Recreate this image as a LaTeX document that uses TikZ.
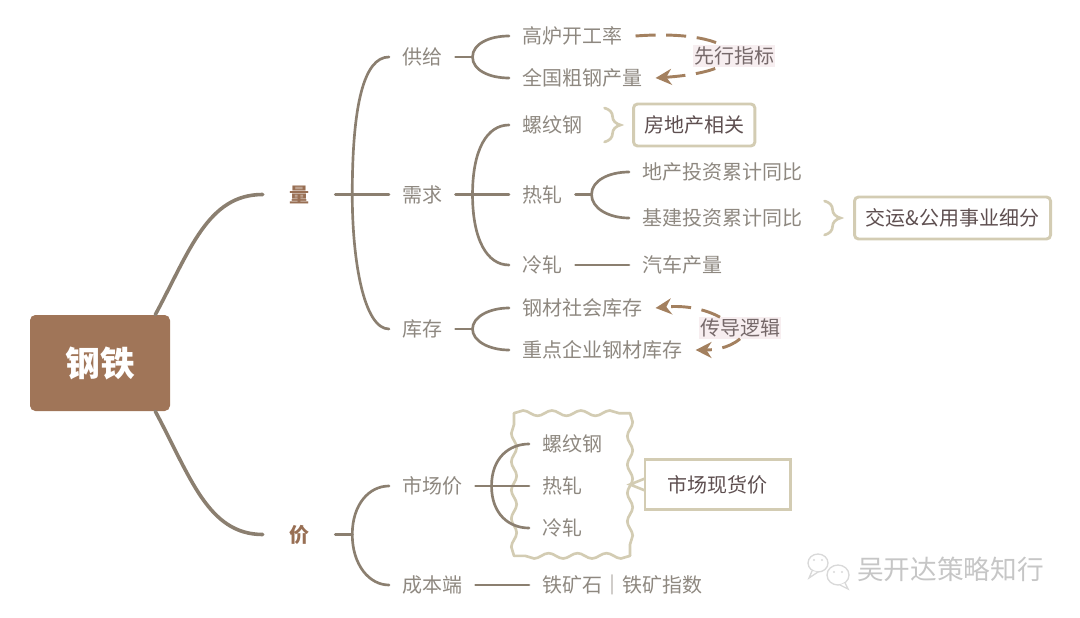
\documentclass[tikz,border=0pt]{standalone}
\usepackage{fontspec}
\setmainfont{Noto Sans CJK SC}
\usepackage{xcolor}
\usetikzlibrary{arrows.meta, positioning, calc, decorations.pathmorphing, decorations.pathreplacing}

\definecolor{rootbrown}{HTML}{A07558}
\definecolor{linkgray}{HTML}{8B7F70}
\definecolor{textgray}{HTML}{8E8880}
\definecolor{notetan}{HTML}{D3CCB3}
\definecolor{notetext}{HTML}{5E4F50}
\definecolor{tagpink}{HTML}{F7EEF0}
\definecolor{dashbrown}{HTML}{A3805F}

\begin{document}
\begin{tikzpicture}[
    x=0.75pt, y=-0.75pt,
    % Central topic
    rootbox/.style={rectangle, fill=rootbrown, rounded corners=4pt, minimum width=105pt,
                    minimum height=72pt, text=white, font=\fontsize{26pt}{26pt}\selectfont\bfseries},
    % First level labels
    mainlabel/.style={inner xsep=19.5pt, inner ysep=0pt, text height=13.2pt, text depth=1.8pt,
                      text=rootbrown!95!black, font=\fontsize{15pt}{15pt}\selectfont\bfseries},
    % Plain labels, west anchor sits on the end of the branch
    leaf/.style={anchor=west, inner xsep=9.75pt, inner ysep=0pt, text height=13.2pt, text depth=1.8pt,
                 text=textgray, font=\fontsize{15pt}{15pt}\selectfont},
    % Note boxes
    notebox/.style={rectangle, draw=notetan, line width=2.2pt, rounded corners=3pt, text=notetext,
                    minimum height=31.5pt, outer sep=0pt, font=\fontsize{15pt}{15pt}\selectfont},
    waveframe/.style={rectangle, minimum width=87pt, minimum height=107pt, outer sep=0pt},
    waveside/.style={draw=notetan, line width=2pt, line cap=round, decorate,
                     decoration={snake, segment length=#1, amplitude=2pt}},
    % Highlighted tags on the dashed arrows
    tag/.style={fill=tagpink, inner xsep=1pt, inner ysep=1pt, text=notetext!85,
                font=\fontsize{15pt}{15pt}\selectfont},
    trunk/.style={line width=2.7pt, linkgray, line cap=round},
    link/.style={line width=2pt, linkgray, line cap=round},
    notebrace/.style={line width=2pt, notetan, line cap=round, decorate,
                      decoration={brace, amplitude=12pt}},
    dasharrow/.style={-{Stealth[length=12pt, width=12pt]}, line width=2.2pt, dashbrown,
                      dash pattern=on 15pt off 8pt},
    bubble/.style={draw=gray!30, line width=1pt, fill=white},
    markname/.style={text=gray!45, font=\fontsize{20pt}{20pt}\selectfont}
]
\useasboundingbox (0,0) rectangle (1080,617);

%-------- ROOT --------
\node[rootbox] (root) at (100,363) {钢铁};
\node[mainlabel] (liang) at (299,194.5) {量};
\node[mainlabel] (jia) at (299,534.5) {价};

%-------- QUANTITY --------
\node[leaf] (gonggei) at (389,57) {供给};
\node[leaf] (xuqiu) at (389,194.5) {需求};
\node[leaf] (kucun) at (389,329) {库存};

\node[leaf] (gaolu) at (509,36) {高炉开工率};
\node[leaf] (quanguo) at (509,78) {全国粗钢产量};
\node[leaf] (luowen) at (509,125) {螺纹钢};
\node[leaf] (rezha) at (509,194.5) {热轧};
\node[leaf] (lengzha) at (509,265) {冷轧};
\node[leaf] (dichan) at (629,172) {地产投资累计同比};
\node[leaf] (jijian) at (629,218) {基建投资累计同比};
\node[leaf] (qiche) at (629,265) {汽车产量};
\node[leaf] (shehui) at (509,308) {钢材社会库存};
\node[leaf] (qiye) at (509,350) {重点企业钢材库存};

%-------- PRICE --------
\node[leaf] (shichang) at (389,486) {市场价};
\node[leaf] (chengben) at (389,585) {成本端};
\node[waveframe] (wave) at (572,484.5) {};
\draw[waveside=21.7pt] (wave.north west) -- (wave.north east);
\draw[waveside=21.3pt] (wave.north east) -- (wave.south east);
\draw[waveside=21.7pt] (wave.south east) -- (wave.south west);
\draw[waveside=21.3pt] (wave.south west) -- (wave.north west);
\node[leaf] (luowenb) at (529,444) {螺纹钢};
\node[leaf] (rezhab) at (529,486) {热轧};
\node[leaf] (lengzhab) at (529,528) {冷轧};
\node[leaf] (tiekuang) at (529,585) {铁矿石｜铁矿指数};

%-------- NOTES --------
\node[notebox, minimum width=91pt, right=28.5pt of luowen] (fangdi) {房地产相关};
\node[notebox, minimum width=147pt, right=29.25pt of jijian] (jiaoyun) {交运\&公用事业细分};
\node[notebox, rounded corners=0pt, minimum width=109pt, minimum height=37pt, right=11.25pt of wave] (xianhuo) {市场现货价};

%-------- TRUNKS --------
\draw[trunk] ($(root.north east)+(-15,0)$) .. controls +(35,-65) and +(-55,0) .. (liang.west);
\draw[trunk] ($(root.south east)+(-15,0)$) .. controls +(35,65) and +(-55,0) .. (jia.west);

%-------- BRANCHES: quantity --------
\coordinate (liangv) at ($(liang.east)+(17,0)$);
\draw[link] (liang.east) -- (xuqiu.west);
\draw[link] (liangv) .. controls +(0,-90) and +(-25,0) .. (gonggei.west);
\draw[link] (liangv) .. controls +(0,67) and +(-25,0) .. (kucun.west);

\coordinate (gongv) at ($(gonggei.east)+(17,0)$);
\draw[link] (gonggei.east) -- (gongv);
\draw[link] (gongv) .. controls +(0,-13) and +(-20,0) .. (gaolu.west);
\draw[link] (gongv) .. controls +(0,13) and +(-20,0) .. (quanguo.west);

\coordinate (xuv) at ($(xuqiu.east)+(17,0)$);
\draw[link] (xuqiu.east) -- (rezha.west);
\draw[link] (xuv) .. controls +(0,-45) and +(-22,0) .. (luowen.west);
\draw[link] (xuv) .. controls +(0,45) and +(-22,0) .. (lengzha.west);

\coordinate (rev) at ($(rezha.east)+(16,0)$);
\draw[link] (rezha.east) -- (rev);
\draw[link] (rev) .. controls +(0,-14) and +(-20,0) .. (dichan.west);
\draw[link] (rev) .. controls +(0,14) and +(-20,0) .. (jijian.west);
\draw[link] (lengzha.east) -- (qiche.west);

\coordinate (kuv) at ($(kucun.east)+(17,0)$);
\draw[link] (kucun.east) -- (kuv);
\draw[link] (kuv) .. controls +(0,-12) and +(-20,0) .. (shehui.west);
\draw[link] (kuv) .. controls +(0,12) and +(-20,0) .. (qiye.west);

%-------- BRANCHES: price --------
\coordinate (jiav) at ($(jia.east)+(17,0)$);
\draw[link] (jia.east) -- (jiav);
\draw[link] (jiav) .. controls +(0,-30) and +(-20,0) .. (shichang.west);
\draw[link] (jiav) .. controls +(0,30) and +(-20,0) .. (chengben.west);

\coordinate (shiv) at ($(shichang.east)+(16,0)$);
\draw[link] (shichang.east) -- (rezhab.west);
\draw[link] (shiv) .. controls +(0,-28) and +(-20,0) .. (luowenb.west);
\draw[link] (shiv) .. controls +(0,28) and +(-20,0) .. (lengzhab.west);
\draw[link] (chengben.east) -- (tiekuang.west);

%-------- BRACES AND CALLOUT --------
\draw[notebrace] ($(fangdi.west)+(-29,-17)$) -- ($(fangdi.west)+(-29,17)$);
\draw[notebrace] ($(jiaoyun.west)+(-30,-17)$) -- ($(jiaoyun.west)+(-30,17)$);
\draw[line width=2pt, notetan] ($(xianhuo.west)+(0,-6)$) -- (wave.east) -- ($(xianhuo.west)+(0,6)$);

%-------- DASHED ARROWS AND TAGS --------
\draw[dasharrow] (gaolu.east) .. controls (740,28) and (770,70) .. (quanguo.east);
\node[tag] (xianxing) at (734,56) {先行指标};
\node[tag] (chuandao) at (740,328) {传导逻辑};
\draw[dasharrow] ($(chuandao.north)+(-20,0)$) .. controls (705,309) and (685,305) .. (shehui.east);
\draw[dasharrow] (chuandao.south) .. controls (728,349) and (712,350) .. (qiye.east);

%-------- WATERMARK --------
\draw[bubble] (818,563) ellipse (10 and 9);
\draw[bubble] (812,571) -- (809,578) -- (818,572);
\fill[gray!30] (814,560) circle (1.2) (822,560) circle (1.2);
\draw[bubble] (838,575) ellipse (11 and 10);
\draw[bubble] (845,583) -- (848,589) -- (840,585);
\fill[gray!30] (834,572) circle (1.2) (842,572) circle (1.2);
\node[markname, anchor=west, inner sep=0pt] (mark) at (857,569) {吴开达策略知行};

\end{tikzpicture}
\end{document}
